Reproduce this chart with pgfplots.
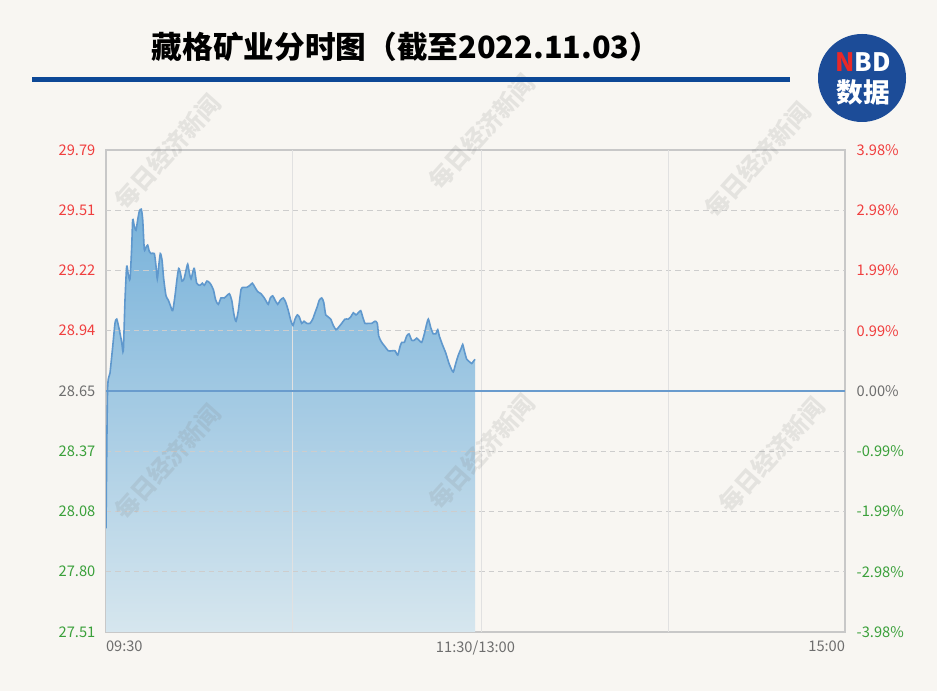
\documentclass[border=0pt]{standalone}
\usepackage{pgfplots}
\pgfplotsset{compat=1.18}
\usepackage{pgfplotstable}
\usepackage{fontspec}
\setmainfont{Noto Sans CJK SC}
\definecolor{bg}{RGB}{248,246,242}
\definecolor{linec}{RGB}{95,152,205}
\definecolor{basec}{RGB}{105,155,205}
\definecolor{filltop}{RGB}{120,178,218}
\definecolor{fillbot}{RGB}{214,230,238}
\definecolor{redc}{RGB}{240,62,62}
\definecolor{greenc}{RGB}{58,160,58}
\definecolor{grayc}{RGB}{110,110,110}
\definecolor{navy}{RGB}{13,72,150}
\definecolor{logoc}{RGB}{28,76,152}
\definecolor{logored}{RGB}{232,40,40}
\definecolor{gridc}{RGB}{205,205,205}
\definecolor{vgridc}{RGB}{225,225,225}
\definecolor{bordc}{RGB}{200,200,200}

\pgfplotstableread{
m p
0 28.00
0.5 28.65
1.30 28.735
2.18 28.86
2.92 28.97
3.48 28.99
4.32 28.94
5.10 28.88
5.62 28.84
6.17 29.08
6.72 29.24
7.24 29.20
7.79 29.18
8.35 29.33
8.67 29.46
9.19 29.43
9.74 29.41
10.30 29.46
10.82 29.50
11.46 29.51
11.92 29.46
12.44 29.32
12.99 29.33
13.54 29.34
14.06 29.31
14.62 29.30
15.69 29.30
16.24 29.24
16.66 29.18
17.12 29.24
17.64 29.30
18.19 29.27
18.74 29.18
19.49 29.10
20.23 29.08
21.01 29.05
21.66 29.03
22.41 29.10
23.06 29.18
23.61 29.23
24.13 29.21
24.68 29.17
25.33 29.18
25.98 29.22
26.53 29.25
27.05 29.21
27.61 29.18
28.16 29.21
28.68 29.23
29.46 29.16
30.53 29.15
31.28 29.16
31.93 29.15
32.80 29.17
33.78 29.16
34.85 29.13
35.63 29.08
36.47 29.06
37.35 29.09
38.42 29.09
39.20 29.10
40.05 29.11
40.82 29.08
41.57 29.01
42.22 28.98
42.97 29.03
43.85 29.13
44.59 29.14
45.70 29.14
46.77 29.15
47.52 29.16
48.39 29.14
49.27 29.12
50.34 29.11
51.41 29.09
52.19 29.07
52.71 29.06
53.36 29.09
54.14 29.10
54.89 29.08
55.76 29.06
56.61 29.08
57.58 29.09
58.36 29.07
59.21 29.03
60.08 28.98
60.73 28.96
61.38 28.99
62.13 29.01
62.78 29.00
63.56 28.97
64.31 28.98
65.18 28.97
66.26 28.97
67.13 28.99
67.88 29.02
68.63 29.05
69.28 29.08
70.06 29.09
70.70 29.07
71.35 29.01
72.20 29.00
72.98 28.99
73.82 28.96
74.70 28.94
75.45 28.95
76.55 28.97
77.62 28.99
78.69 28.99
79.47 29.00
80.32 29.02
81.19 29.01
81.94 29.02
82.72 29.03
83.37 29.00
84.12 28.97
85.19 28.97
86.29 28.97
87.37 28.98
88.11 28.97
88.57 28.91
89.54 28.88
90.61 28.86
91.68 28.84
92.79 28.84
93.86 28.84
94.74 28.82
95.49 28.86
96.04 28.88
96.88 28.88
97.66 28.91
98.41 28.92
99.28 28.89
100.13 28.89
100.91 28.90
101.66 28.89
102.53 28.88
103.38 28.92
104.03 28.96
104.68 28.99
105.46 28.95
106.30 28.92
107.08 28.92
107.73 28.94
108.25 28.91
109.23 28.87
110.33 28.83
111.40 28.78
112.28 28.75
112.80 28.74
113.58 28.78
114.42 28.82
115.30 28.85
115.85 28.87
116.37 28.84
117.15 28.80
117.89 28.79
118.77 28.78
119.29 28.79
119.84 28.80
}\pricedata

\begin{document}
\begin{tikzpicture}
\useasboundingbox (0,0) rectangle (702.75pt,518.25pt);
\fill[bg] (0,0) rectangle (702.75pt,518.25pt);

\begin{axis}[
  at={(79.5pt,44.25pt)}, anchor=south west, scale only axis,
  width=554.25pt, height=361.5pt,
  xmin=0, xmax=240, ymin=27.51, ymax=29.79,
  axis line style={bordc, line width=1.1pt},
  major tick length=0pt,
  xtick={0,120,240},
  xticklabels={\rlap{09:30},11:30/13:00,\llap{15:00}},
  ytick={27.51,27.795,28.08,28.365,28.65,28.935,29.22,29.505,29.79},
  yticklabels={\textcolor{greenc}{27.51},\textcolor{greenc}{27.80},\textcolor{greenc}{28.08},\textcolor{greenc}{28.37},\textcolor{grayc}{28.65},\textcolor{redc}{28.94},\textcolor{redc}{29.22},\textcolor{redc}{29.51},\textcolor{redc}{29.79}},
  tick label style={font=\fontsize{11}{13}\selectfont},
  xticklabel style={text=grayc, anchor=north, yshift=-3pt},
  yticklabel style={anchor=east, xshift=-4.5pt},
]
\addplot[draw=none, smooth, tension=0.4, top color=filltop, bottom color=fillbot, forget plot] table[x=m, y=p] {\pricedata} -- (axis cs:119.84,27.51) -- (axis cs:0,27.51) -- cycle;
\pgfplotsinvokeforeach{27.795,28.08,28.365,28.935,29.22,29.505}{
  \draw[gridc, line width=0.75pt, dash pattern=on 4pt off 3pt] (axis cs:0,#1) -- (axis cs:240,#1);
}
\pgfplotsinvokeforeach{60.7,122.1,182.8}{
  \draw[vgridc, line width=0.75pt] (axis cs:#1,27.51) -- (axis cs:#1,29.79);
}
\addplot[basec, line width=1.1pt] coordinates {(0,28.65) (240,28.65)};
\addplot[linec, line width=1.2pt, smooth, tension=0.4] table[x=m, y=p] {\pricedata};
\end{axis}

\begin{scope}[x=0.75pt, y=-0.75pt, shift={(0pt,518.25pt)}]
  \foreach \yy/\lab/\col in {150/3.98/redc, 210.25/2.98/redc, 270.5/1.99/redc, 330.75/0.99/redc, 391/0.00/grayc, 451.25/-0.99/greenc, 511.5/-1.99/greenc, 571.75/-2.98/greenc, 632/-3.98/greenc}{
    \node[anchor=west, text=\col, font=\fontsize{11}{13}\selectfont] at (852,\yy) {\lab\%};
  }
  \foreach \cx/\cy in {168/152, 482/132, 758/160, 168/462, 482/452, 772/455}{
    \node[rotate=48, text=gray, opacity=0.16, font=\bfseries\fontsize{18}{18}\selectfont] at (\cx,\cy) {每日经济新闻};
  }
  \node[font=\bfseries\fontsize{23}{27}\selectfont] at (406,47) {藏格矿业分时图（截至2022.11.03）};
  \fill[navy] (32,77) rectangle (790,82);
  \fill[logoc] (862,78) circle[radius=33pt];
  \node[text=white, font=\bfseries\fontsize{19}{19}\selectfont] at (863,62) {\textcolor{logored}{N}BD};
  \node[text=white, font=\bfseries\fontsize{20}{20}\selectfont] at (863,92) {数据};
\end{scope}
\end{tikzpicture}
\end{document}
